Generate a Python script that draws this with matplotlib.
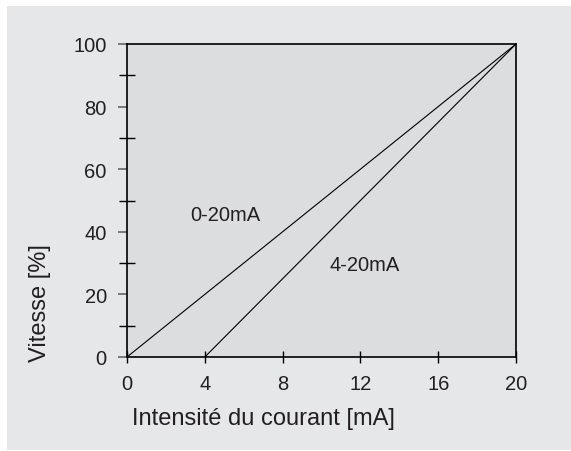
import matplotlib.pyplot as plt
from matplotlib.patches import Rectangle

plt.rcParams['font.family'] = ['Liberation Sans', 'DejaVu Sans']

current_0_20 = [0, 20]
speed_0_20 = [0, 100]
current_4_20 = [4, 20]
speed_4_20 = [0, 100]
x_ticks = [0, 4, 8, 12, 16, 20]
y_major = [0, 20, 40, 60, 80, 100]
y_minor = [10, 30, 50, 70, 90]

txt = '#231f20'

fig = plt.figure(figsize=(5.71, 4.52), dpi=100)
fig.patch.set_facecolor('white')
fig.add_artist(Rectangle((7 / 571, 1 / 452), 564 / 571, 444 / 452,
                         transform=fig.transFigure, facecolor='#e6e7e8',
                         edgecolor='none', zorder=-5))

ax = fig.add_axes([127 / 571, 1 - 358 / 452, 389 / 571, 313 / 452])
ax.set_facecolor('#dcdddf')

ax.plot(current_0_20, speed_0_20, color='k', linewidth=0.8)
ax.plot(current_4_20, speed_4_20, color='k', linewidth=0.8)

ax.text(3.25, 45.5, "0-20mA", fontsize=14.5, ha='left', va='center', color=txt)
ax.text(10.4, 29.5, "4-20mA", fontsize=14.5, ha='left', va='center', color=txt)

ax.set_xlim(0, 20)
ax.set_ylim(0, 100)
ax.set_xticks(x_ticks)
ax.set_yticks(y_major)
ax.set_yticks(y_minor, minor=True)
ax.tick_params(axis='x', direction='inout', length=8.6, width=1, color='k',
               labelsize=14.5, pad=8, labelcolor=txt)
ax.tick_params(axis='y', which='major', direction='out', length=6.5, width=1.2,
               color='#666666', labelsize=14.5, pad=8, labelcolor=txt)
ax.tick_params(axis='y', which='minor', direction='inout', length=12, width=1,
               color='k')

for s in ax.spines.values():
    s.set_linewidth(1.2)
    s.set_color('k')

ax.set_xlabel("Intensité du courant [mA]", fontsize=17, color=txt)
ax.xaxis.set_label_coords(0.35, -0.16)
ax.set_ylabel("Vitesse [%]", fontsize=17, color=txt)
ax.yaxis.set_label_coords(-0.195, 0.176)

fig.savefig("out.png", dpi=100)
